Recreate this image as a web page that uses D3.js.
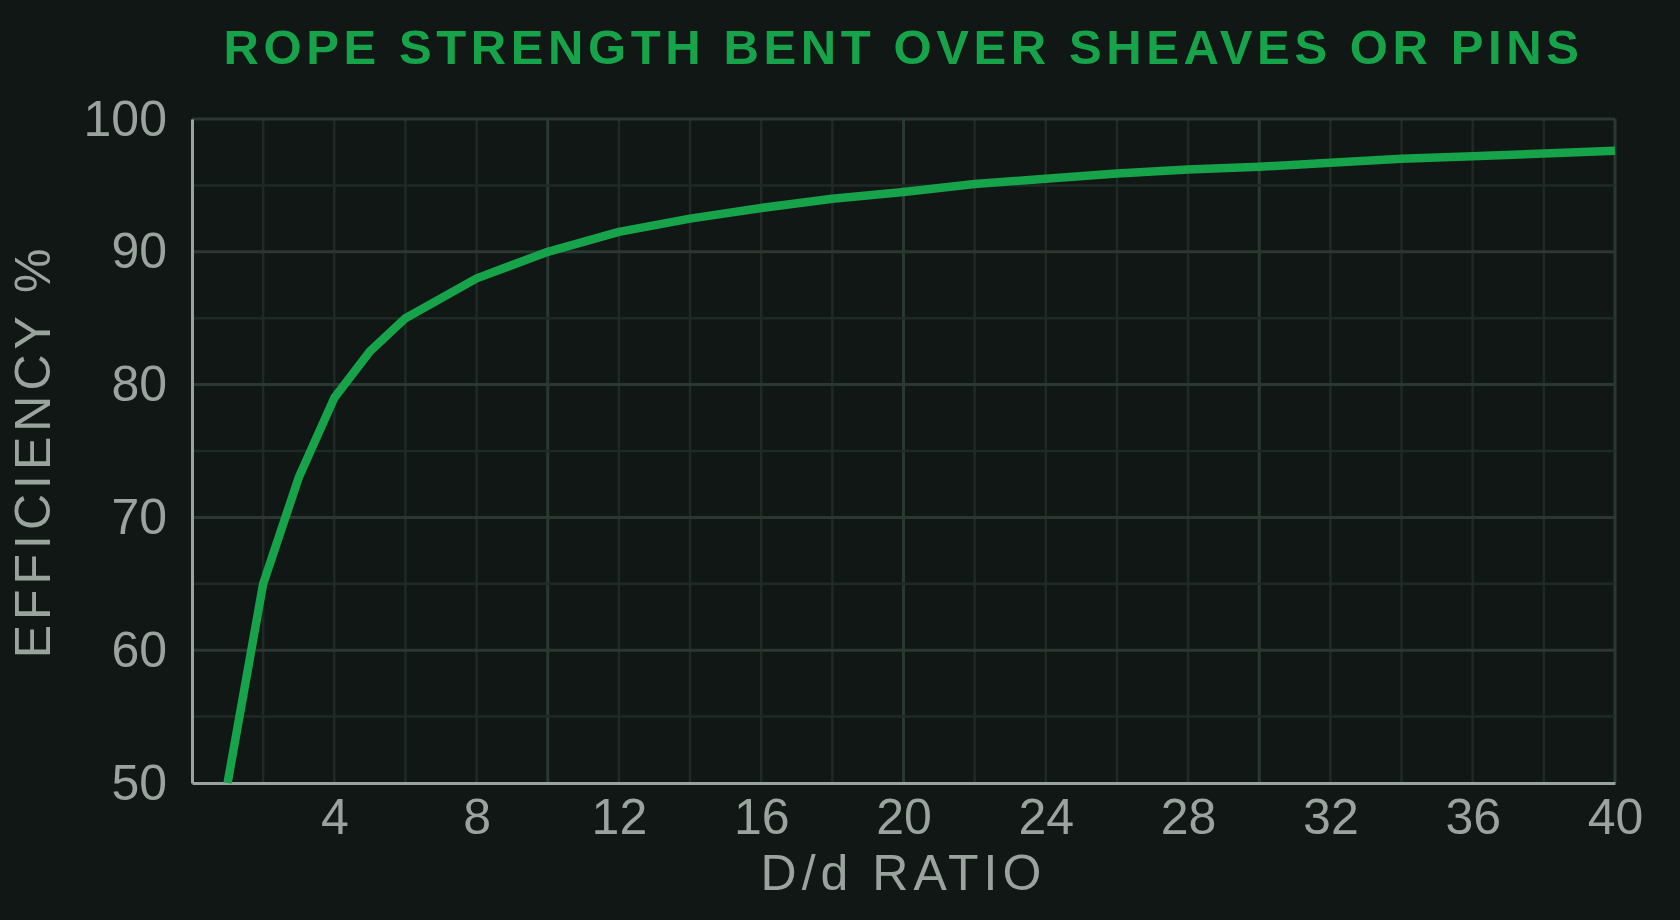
<!DOCTYPE html>
<meta charset="utf-8">
<script src="https://cdn.jsdelivr.net/npm/d3@7"></script>
<style>
  html, body { margin: 0; padding: 0; background: #111715; }
  text { font-family: "Liberation Sans", Arial, sans-serif; }
</style>
<body>
<script>

// data
var ratio      = [1, 2, 3, 4, 5, 6, 8, 10, 12, 14, 16, 18, 20, 22, 24, 26, 28, 30, 32, 34, 36, 38, 40]
var efficiency = [50, 65, 73, 79, 82.5, 85, 88, 90, 91.5, 92.5, 93.3, 94, 94.5, 95.1, 95.5, 95.9, 96.2, 96.4, 96.7, 97, 97.2, 97.4, 97.6]
var xTicks = [4, 8, 12, 16, 20, 24, 28, 32, 36, 40]
var yTicks = [50, 60, 70, 80, 90, 100]

var width = 1680
var height = 920
var margin = {left: 192, right: 65, top: 119, bottom: 137}

var green = "#16a34a"
var grey = "#9aa39e"

var x = d3.scaleLinear().domain([0, 40]).range([margin.left, width - margin.right])
var y = d3.scaleLinear().domain([50, 100]).range([height - margin.bottom, margin.top])

var svg = d3.select("body").append("svg")
            .attr("width", width)
            .attr("height", height)
            .style("display", "block")

svg.append("rect").attr("width", width).attr("height", height).attr("fill", "#111715")

// grid: minor every 2 / 5, major every 10
var grid = svg.append("g").attr("class", "grid")

grid.selectAll(".vx").data(d3.range(2, 41, 2)).enter().append("line")
    .attr("x1", d => x(d)).attr("x2", d => x(d))
    .attr("y1", y(100)).attr("y2", y(50))
    .attr("stroke", d => d % 10 == 0 ? "#2b3832" : "#1f2a25")
    .attr("stroke-width", d => d % 10 == 0 ? 3 : 2.5)

grid.selectAll(".hy").data(d3.range(55, 101, 5)).enter().append("line")
    .attr("x1", x(0)).attr("x2", x(40))
    .attr("y1", d => y(d)).attr("y2", d => y(d))
    .attr("stroke", d => d % 10 == 0 ? "#2b3832" : "#1f2a25")
    .attr("stroke-width", d => d % 10 == 0 ? 3 : 2.5)

// axes
var xAxis = svg.append("g")
    .attr("transform", "translate(0," + y(50) + ")")
    .call(d3.axisBottom(x).tickValues(xTicks).tickSize(0).tickPadding(14))
xAxis.select(".domain").attr("stroke", grey).attr("stroke-width", 3)
xAxis.selectAll("text").attr("fill", grey).style("font-size", "50px").attr("dy", "0.74em")

var yAxis = svg.append("g")
    .attr("transform", "translate(" + x(0) + ",0)")
    .call(d3.axisLeft(y).tickValues(yTicks).tickSize(0).tickPadding(25))
yAxis.select(".domain").attr("stroke", grey).attr("stroke-width", 3)
yAxis.selectAll("text").attr("fill", grey).style("font-size", "50px").attr("dy", "0.32em")

// curve
var line = d3.line().x((d, i) => x(ratio[i])).y(d => y(d)).curve(d3.curveLinear)
svg.append("path")
   .attr("d", line(efficiency))
   .attr("fill", "none")
   .attr("stroke", green)
   .attr("stroke-width", 8.5)
   .attr("stroke-linejoin", "round")

// labels
svg.append("text")
   .attr("x", (x(0) + x(40)) / 2)
   .attr("y", 64)
   .attr("text-anchor", "middle")
   .attr("fill", green)
   .style("font-size", "49px")
   .style("font-weight", "bold")
   .style("letter-spacing", "4.6px")
   .text("ROPE STRENGTH BENT OVER SHEAVES OR PINS")

svg.append("text")
   .attr("x", (x(0) + x(40)) / 2)
   .attr("y", 890)
   .attr("text-anchor", "middle")
   .attr("fill", grey)
   .style("font-size", "50px")
   .style("letter-spacing", "5px")
   .text("D/d RATIO")

svg.append("text")
   .attr("transform", "translate(50," + (y(75)) + ") rotate(-90)")
   .attr("text-anchor", "middle")
   .attr("fill", grey)
   .style("font-size", "50px")
   .style("letter-spacing", "5px")
   .text("EFFICIENCY %")

</script>
</body>
